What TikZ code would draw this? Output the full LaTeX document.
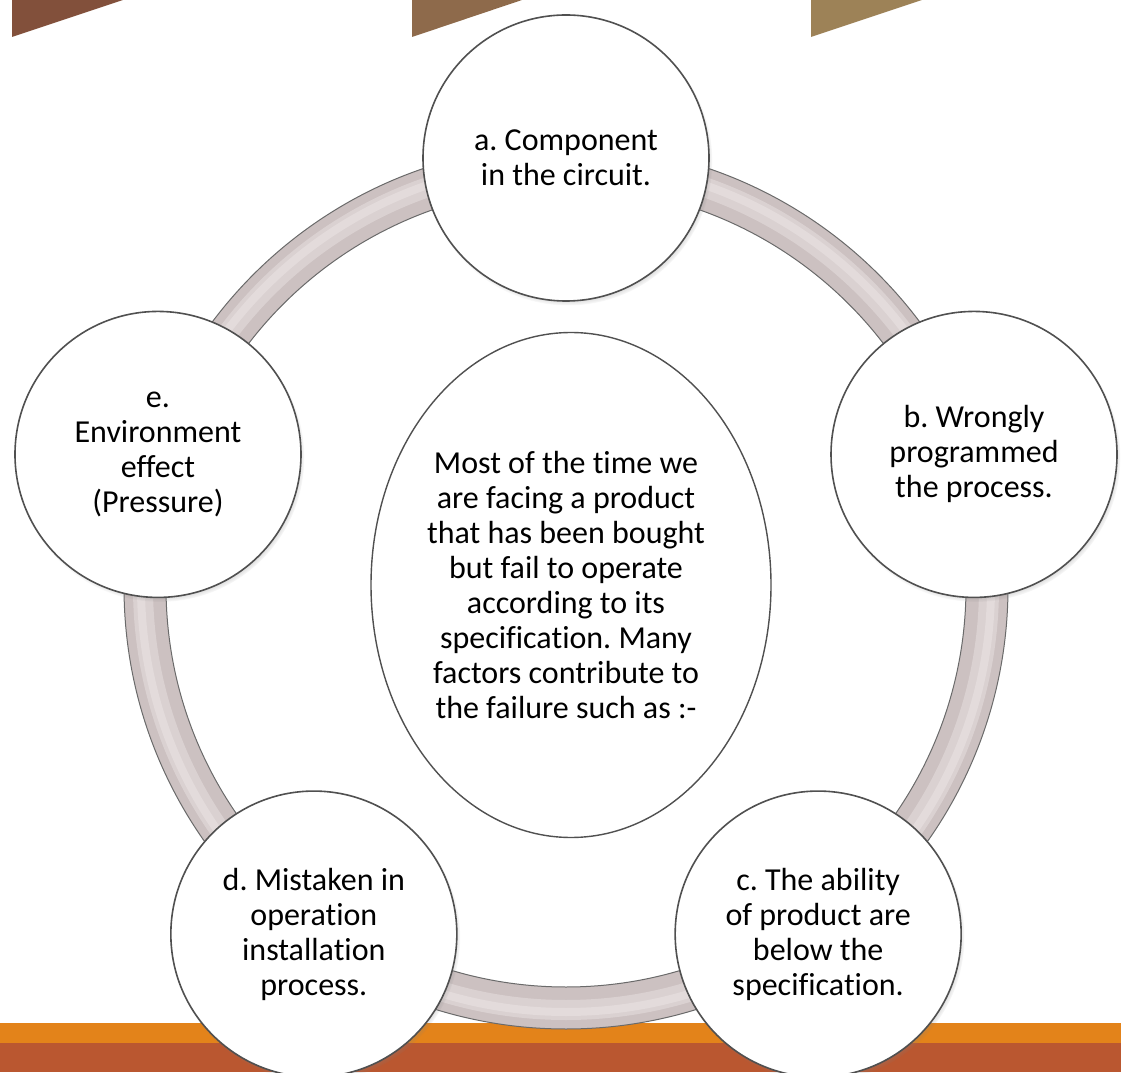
\documentclass[tikz,border=0pt]{standalone}
\usepackage{fontspec}
\setmainfont{Carlito}[Ligatures=NoCommon]
\usepackage{xcolor}
\usetikzlibrary{shapes.geometric,shadows}
\definecolor{rim}{RGB}{80,80,80}
\definecolor{band}{RGB}{204,193,193}
\definecolor{bandlight}{RGB}{236,230,230}
\definecolor{tabdark}{RGB}{130,80,59}
\definecolor{tabmid}{RGB}{142,106,75}
\definecolor{tablight}{RGB}{157,130,87}
\definecolor{stripeorange}{RGB}{227,131,26}
\definecolor{striperust}{RGB}{186,87,48}
\frenchspacing

\begin{document}
\begin{tikzpicture}[
    x=1pt, y=1pt,
    cause/.style={circle, draw=rim, line width=1.6pt, fill=white,
        minimum size=286pt, inner sep=0pt, align=center,
        font=\fontsize{32}{35}\selectfont,
        circular drop shadow={shadow xshift=2pt, shadow yshift=-3pt, shadow scale=1.01}},
    core/.style={ellipse, draw=rim, line width=1.4pt, fill=white,
        minimum width=400pt, minimum height=505pt, inner sep=0pt}
]
\useasboundingbox (0,0) rectangle (1121,1072);
\clip (0,0) rectangle (1121,1072);

% corner tabs along the top edge
\fill[tabdark]  (12,1072) -- (123,1072) -- (12,1035) -- cycle;
\fill[tabmid]   (412,1072) -- (522,1072) -- (412,1035) -- cycle;
\fill[tablight] (811,1072) -- (922,1072) -- (811,1035) -- cycle;

% footer stripes
\fill[striperust] (0,0) rectangle (1121,29);
\fill[stripeorange] (0,29) rectangle (1121,49);

% ring behind the causes
\coordinate (hub) at (566,485);
\draw[band, line width=42pt] (hub) circle[radius=421];
\draw[bandlight, line width=20pt, opacity=.45] (hub) circle[radius=423];
\draw[bandlight, line width=8pt, opacity=.5] (hub) circle[radius=425];
\draw[rim!85, line width=1pt] (hub) circle[radius=400];
\draw[rim!85, line width=1pt] (hub) circle[radius=442];

% central statement
\node[core] (intro) at (571,487) {};
\node[align=center, font=\fontsize{32}{35}\selectfont] (introtext) at (566,487)
    {Most of the time we\\are facing a product\\that has been bought\\but fail to operate\\according to its\\specification. Many\\factors contribute to\\the failure such as :-};

% the five causes
\node[cause] (comp) at ([shift={(90:429)}]hub) {a. Component\\in the circuit.};
\node[cause] (prog) at ([shift={(18:429)}]hub) {b. Wrongly\\programmed\\the process.};
\node[cause] (spec) at ([shift={(-54:429)}]hub) {c. The ability\\of product are\\below the\\specification.};
\node[cause] (inst) at ([shift={(-126:429)}]hub) {d. Mistaken in\\operation\\installation\\process.};
\node[cause] (env) at ([shift={(162:429)}]hub) {e.\\Environment\\effect\\(Pressure)};
\end{tikzpicture}
\end{document}
